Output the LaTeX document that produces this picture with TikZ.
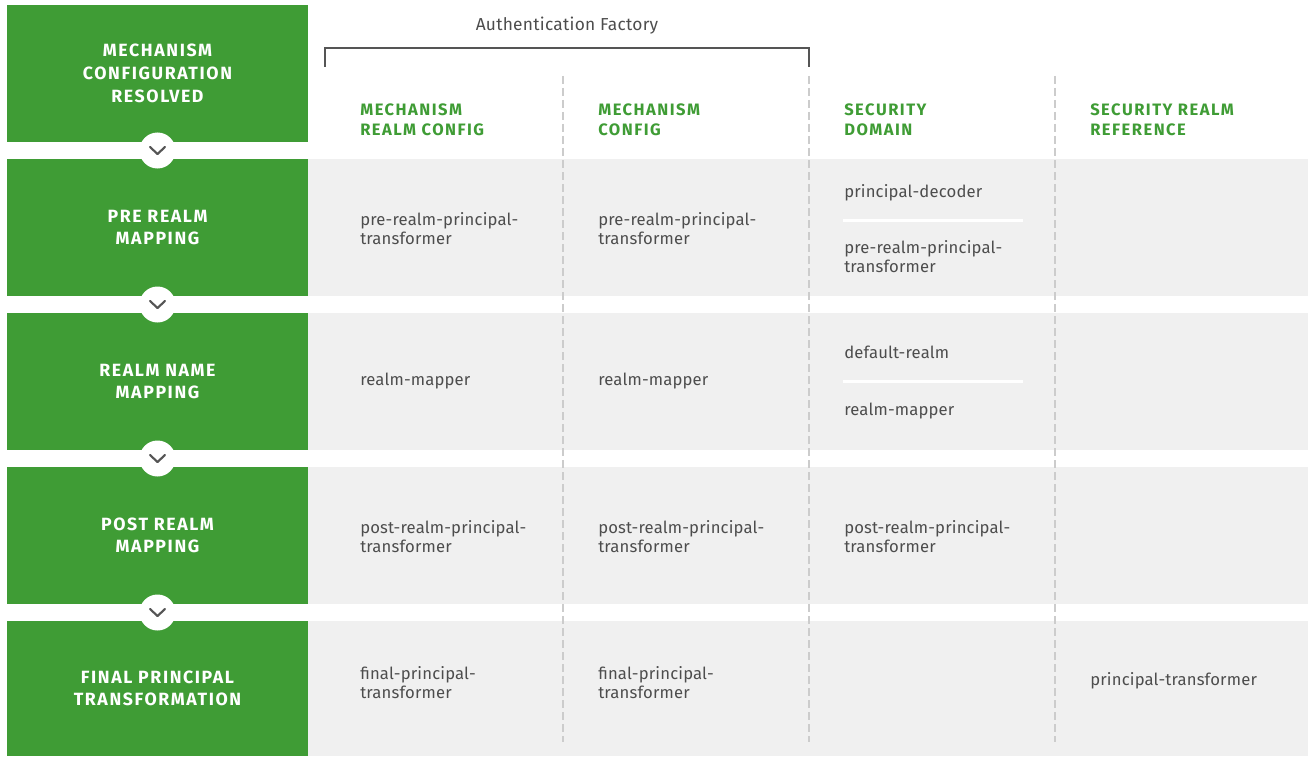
\documentclass[tikz,border=0pt]{standalone}
\usepackage{fontspec}
\setmainfont{Fira Sans}
\definecolor{rhgreen}{HTML}{3F9C35}
\definecolor{bandgray}{HTML}{F0F0F0}
\definecolor{txtgray}{HTML}{4D4D4D}
\definecolor{divgray}{HTML}{CCCCCC}
\definecolor{chevgray}{HTML}{555555}
\begin{document}
\begin{tikzpicture}[x=0.75pt,y=-0.75pt,
    stage/.style={fill=rhgreen, text=white, font=\bfseries\fontsize{13.3}{17}\selectfont\addfontfeature{LetterSpace=9}, align=center, minimum width=225.75pt, minimum height=102.75pt, inner sep=0pt},
    flowdot/.style={circle, fill=white, minimum size=27pt, inner sep=0pt},
    chev/.style={draw=chevgray, line width=1.6pt, line cap=round, line join=round},
    colhead/.style={anchor=west, text=rhgreen, font=\bfseries\fontsize{12.4}{15}\selectfont\addfontfeature{LetterSpace=9}, align=left, inner sep=0pt},
    cell/.style={anchor=west, text=txtgray, font=\fontsize{12.5}{14.25}\selectfont\addfontfeature{LetterSpace=1}, align=left, inner sep=0pt},
    divider/.style={draw=divgray, line width=1.2pt, dash pattern=on 6pt off 3pt},
    cellsep/.style={draw=white, line width=2.25pt}]
  \useasboundingbox (0,0) rectangle (1308,756);
  \foreach \t in {159,313,467} \fill[bandgray] (308,\t) rectangle (1308,\t+137);
  \fill[bandgray] (308,621) rectangle (1308,756);
  \foreach \x in {563,809,1055} \draw[divider] (\x,76) -- (\x,742);

  \node[text=txtgray, font=\fontsize{13}{15}\selectfont\addfontfeature{LetterSpace=1.5}] (factory) at (567,26) {Authentication Factory};
  \draw[chevgray, line width=1.5pt] (325,67) -- (325,48) -- (809,48) -- (809,67);

  \node[stage] (resolved) at (157.5,73.5) {MECHANISM\\CONFIGURATION\\RESOLVED};
  \node[stage] (premap) at (157.5,227.5) {PRE REALM\\MAPPING};
  \node[stage] (namemap) at (157.5,381.5) {REALM NAME\\MAPPING};
  \node[stage] (postmap) at (157.5,535.5) {POST REALM\\MAPPING};
  \node[stage, minimum height=101.25pt] (final) at (157.5,688.5) {FINAL PRINCIPAL\\TRANSFORMATION};

  \foreach \y [count=\i] in {150.5,304.5,458.5,612.5} {
    \node[flowdot] (arrow\i) at (157.5,\y) {};
    \draw[chev, shift={(arrow\i.center)}] (-7.5,-3.5) -- (0,3.5) -- (7.5,-3.5);
  }

  \node[colhead] (hmrc) at (360,120) {MECHANISM\\REALM CONFIG};
  \node[colhead] (hmc) at (598,120) {MECHANISM\\CONFIG};
  \node[colhead] (hsd) at (844,120) {SECURITY\\DOMAIN};
  \node[colhead] (hsrr) at (1090,120) {SECURITY REALM\\REFERENCE};

  \node[cell] (mrcpre) at (360,229) {pre-realm-principal-\\transformer};
  \node[cell] (mcpre) at (598,229) {pre-realm-principal-\\transformer};
  \node[cell] (sddecoder) at (844,193) {principal-decoder};
  \draw[cellsep] (843,220) -- (1023,220);
  \node[cell] (sdpre) at (844,257) {pre-realm-principal-\\transformer};

  \node[cell] (mrcmapper) at (360,381) {realm-mapper};
  \node[cell] (mcmapper) at (598,381) {realm-mapper};
  \node[cell] (sddefault) at (844,352) {default-realm};
  \draw[cellsep] (843,381) -- (1023,381);
  \node[cell] (sdmapper) at (844,411) {realm-mapper};

  \node[cell] (mrcpost) at (360,537) {post-realm-principal-\\transformer};
  \node[cell] (mcpost) at (598,537) {post-realm-principal-\\transformer};
  \node[cell] (sdpost) at (844,537) {post-realm-principal-\\transformer};

  \node[cell] (mrcfinal) at (360,683) {final-principal-\\transformer};
  \node[cell] (mcfinal) at (598,683) {final-principal-\\transformer};
  \node[cell] (srrfinal) at (1090,681) {principal-transformer};
\end{tikzpicture}
\end{document}
